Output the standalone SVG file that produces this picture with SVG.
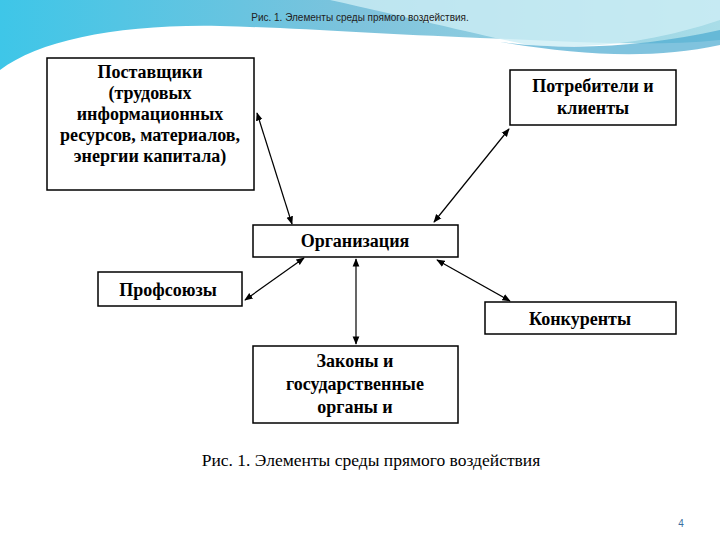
<svg xmlns="http://www.w3.org/2000/svg" width="720" height="540" viewBox="0 0 720 540">
<defs>
<linearGradient id="w1" x1="0" y1="0" x2="1" y2="0"><stop offset="0" stop-color="#3ec6e8"/><stop offset="0.5" stop-color="#7ec3dc"/><stop offset="1" stop-color="#a9dde8"/></linearGradient>
<marker id="a" viewBox="0 0 10 10" refX="9" refY="5" markerWidth="7" markerHeight="7" orient="auto-start-reverse"><path d="M0,1 L10,5 L0,9 z" fill="#000"/></marker>
<style>
.b{fill:#fff;stroke:#000;stroke-width:1.5}
.t{font-family:"Liberation Serif",serif;font-weight:bold;font-size:18px;text-anchor:middle;fill:#000}
.c{stroke:#000;stroke-width:1.2;fill:none;marker-start:url(#a);marker-end:url(#a)}
</style>
</defs>
<rect width="720" height="540" fill="#fff"/>
<path d="M0,0 H720 V40 C640,48 560,40 480,38 C380,34 300,28 220,26 C120,24 40,40 0,70 Z" fill="url(#w1)"/>
<path d="M330,0 C420,20 500,40 530,45 C600,50 660,40 720,20 V0 Z" fill="#cdeef5" opacity="0.8"/>
<path d="M500,42 C580,52 650,45 720,30 V45 C650,60 580,55 500,42 Z" fill="#4aa9d0" opacity="0.7"/>
<text x="360" y="21" font-family="Liberation Sans,sans-serif" font-size="10" text-anchor="middle" fill="#222">Рис. 1. Элементы среды прямого воздействия.</text>
<g id="connectors">
<line class="c" x1="292" y1="224" x2="257" y2="113"/>
<line class="c" x1="434" y1="222" x2="509" y2="129"/>
<line class="c" x1="245" y1="300" x2="304" y2="258"/>
<line class="c" x1="356" y1="259" x2="356" y2="344"/>
<line class="c" x1="437" y1="260" x2="510" y2="301"/>
</g>
<g id="suppliers"><rect class="b" x="47" y="58" width="207" height="132"/>
<text class="t" font-size="15"><tspan x="150" y="78">Поставщики</tspan><tspan x="150" y="99">(трудовых</tspan><tspan x="150" y="120">информационных</tspan><tspan x="150" y="141">ресурсов, материалов,</tspan><tspan x="150" y="162">энергии капитала)</tspan></text></g>
<g id="consumers"><rect class="b" x="510" y="70" width="166" height="55"/>
<text class="t" font-size="19"><tspan x="593" y="92">Потребители и</tspan><tspan x="593" y="114">клиенты</tspan></text></g>
<g id="org"><rect class="b" x="253" y="225" width="205" height="32"/>
<text class="t" x="355" y="247">Организация</text></g>
<g id="unions"><rect class="b" x="98" y="272" width="144" height="34"/>
<text class="t" x="168" y="296">Профсоюзы</text></g>
<g id="competitors"><rect class="b" x="485" y="302" width="191" height="32"/>
<text class="t" x="580" y="325">Конкуренты</text></g>
<g id="laws"><rect class="b" x="253" y="346" width="205" height="77"/>
<text class="t"><tspan x="355" y="367">Законы и</tspan><tspan x="355" y="390">государственные</tspan><tspan x="355" y="413">органы и</tspan></text></g>
<text x="371" y="466" font-family="Liberation Serif,serif" font-size="17.5" text-anchor="middle" fill="#000">Рис. 1. Элементы среды прямого воздействия</text>
<text x="681" y="527" font-family="Liberation Sans,sans-serif" font-size="10" text-anchor="middle" fill="#3a6fa0">4</text>
</svg>
